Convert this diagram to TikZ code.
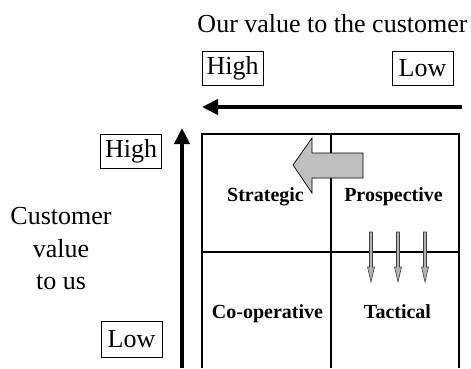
\documentclass[tikz,border=0pt]{standalone}
\usepackage{fontspec}
\setmainfont{Liberation Serif}
\usetikzlibrary{arrows.meta}
\begin{document}
\begin{tikzpicture}[x=1pt,y=-1pt,
  lvlbox/.style={draw=black,line width=0.9pt,font=\fontsize{26}{30}\selectfont,inner sep=0pt,minimum width=61pt,minimum height=34pt},
  quad/.style={font=\fontsize{20}{24}\selectfont\bfseries,anchor=base},
  axis/.style={line width=4pt,-{Triangle[length=16pt,width=15pt]}},
  gridline/.style={line width=1.6pt},
  bigarrow/.style={fill=black!25,draw=black,line width=0.7pt},
  smallarrow/.style={fill=black!30,draw=black!75,line width=0.6pt}]
\useasboundingbox (0,0) rectangle (471,368);
% title
\node[font=\fontsize{26}{30}\selectfont,anchor=base] (title) at (332.5,32) {Our value to the customer};
% level boxes
\node[lvlbox] (thigh) at (232.5,68.5) {High};
\node[lvlbox] (tlow) at (422.5,68.5) {Low};
\node[lvlbox] (lhigh) at (131,151.5) {High};
\node[lvlbox,minimum height=36pt] (llow) at (131.5,339) {Low};
% left label
\node[font=\fontsize{26}{32.5}\selectfont,align=center] (cval) at (61,249) {Customer\\value\\to us};
% axes
\coordinate (hstart) at (462,107);
\coordinate (hend) at (202,107);
\coordinate (vstart) at (182,368);
\coordinate (vend) at (182,128);
\draw[axis] (hstart) -- (hend);
\draw[axis] (vstart) -- (vend);
% grid
\coordinate (gtl) at (202,134);
\coordinate (gtr) at (459,134);
\coordinate (gbl) at (202,368);
\coordinate (gbr) at (459,368);
\coordinate (gtm) at (331,134);
\coordinate (gbm) at (331,368);
\coordinate (gml) at (202,252);
\coordinate (gmr) at (459,252);
\draw[gridline] (gbl) -- (gtl) -- (gtr) -- (gbr);
\draw[gridline] (gtm) -- (gbm);
\draw[gridline] (gml) -- (gmr);
% big gray arrow
\draw[bigarrow] (293,165) -- (312,138) -- (312,153) -- (363,153) -- (363,178) -- (312,178) -- (312,193) -- cycle;
% small arrows
\foreach \x in {371,398,425}{
  \draw[smallarrow] (\x-1.5,232) -- (\x+1.5,232) -- (\x+1.5,267) -- (\x+3.5,267) -- (\x,282) -- (\x-3.5,267) -- (\x-1.5,267) -- cycle;
}
% quadrant labels
\node[quad] (strat) at (265.5,201) {Strategic};
\node[quad] (prosp) at (393.5,201) {Prospective};
\node[quad] (coop) at (267.5,318) {Co-operative};
\node[quad] (tact) at (397.5,318) {Tactical};
\end{tikzpicture}
\end{document}
